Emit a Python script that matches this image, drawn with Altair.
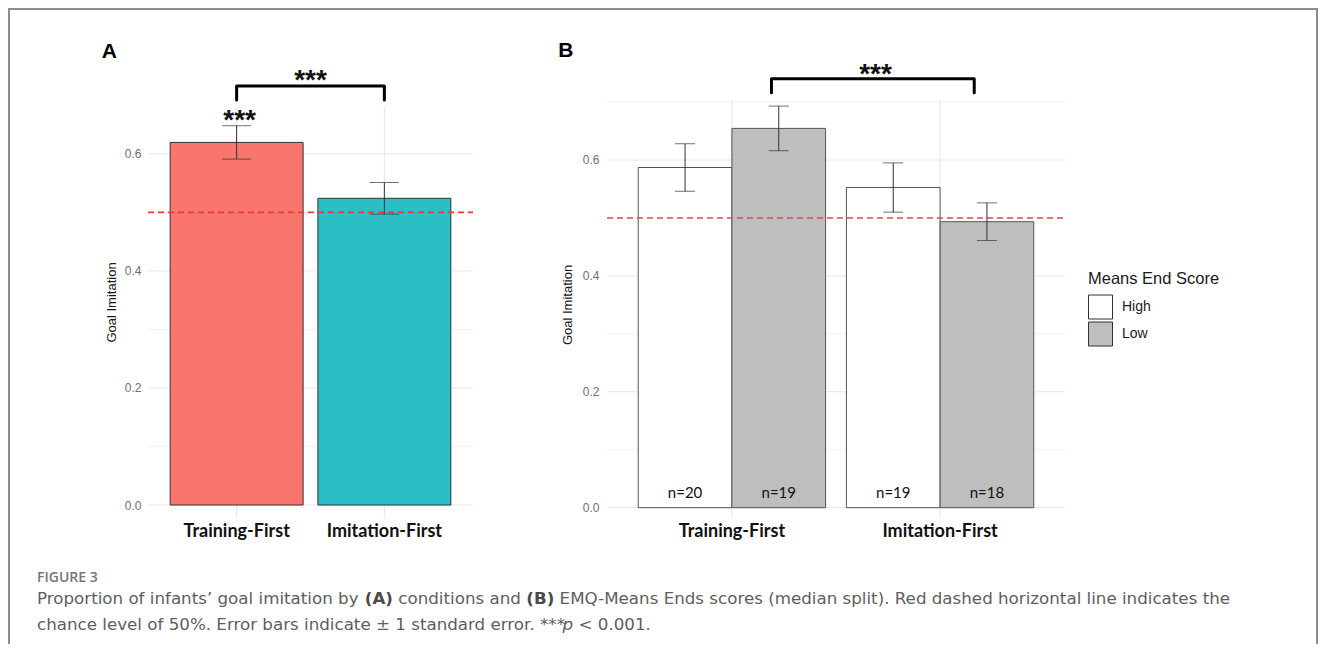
import altair as alt
import pandas as pd

# ---------------- data ----------------
cond_a = ["Training-First", "Imitation-First"]
mean_a = [0.6195, 0.524]
se_a = [0.0285, 0.027]
color_a = ["#F8766D", "#2BBFC5"]

cond_b = ["Training-First", "Training-First", "Imitation-First", "Imitation-First"]
score_b = ["High", "Low", "High", "Low"]
mean_b = [0.587, 0.6545, 0.5525, 0.4935]
se_b = [0.041, 0.0385, 0.0425, 0.0325]
n_b = ["n=20", "n=19", "n=19", "n=18"]
score_levels = ["High", "Low"]
score_colors = ["#FFFFFF", "#BEBEBE"]

major_ticks = [0.0, 0.2, 0.4, 0.6]
minor_a = [0.1, 0.3, 0.5]
minor_b = [0.1, 0.3, 0.5, 0.7]
chance = 0.5

# significance brackets (x in category units, y in data units)
bracket_a_x = [1.0, 1.0, 2.0, 2.0]
bracket_a_y = [0.692, 0.716, 0.716, 0.692]
bracket_b_x = [1.19, 1.19, 2.164, 2.164]
bracket_b_y = [0.716, 0.740, 0.740, 0.716]

# ---------------- tables ----------------
dfa = pd.DataFrame({"cond": cond_a, "mean": mean_a, "se": se_a})
dfa["lo"] = dfa["mean"] - dfa["se"]
dfa["hi"] = dfa["mean"] + dfa["se"]
dfb = pd.DataFrame({"cond": cond_b, "score": score_b, "mean": mean_b, "se": se_b, "n": n_b})
dfb["lo"] = dfb["mean"] - dfb["se"]
dfb["hi"] = dfb["mean"] + dfb["se"]
bra = pd.DataFrame({"x": bracket_a_x, "y": bracket_a_y, "i": range(4)})
brb = pd.DataFrame({"x": bracket_b_x, "y": bracket_b_y, "i": range(4)})

# ---------------- scales (chart coords) ----------------
xA = alt.Scale(type="band", domain=cond_a, range=[140, 465], paddingInner=0.1, paddingOuter=0.15)
xAl = alt.Scale(domain=[0.4, 2.6], range=[140, 465], nice=False, zero=False)
yA = alt.Scale(domain=[-0.0222, 0.68], range=[510, 99], nice=False, zero=False)
xB = alt.Scale(type="band", domain=cond_a, range=[599, 1057], paddingInner=0.1, paddingOuter=0.15)
xBl = alt.Scale(domain=[0.4, 2.6], range=[599, 1057], nice=False, zero=False)
yB = alt.Scale(domain=[-0.0178, 0.7035], range=[510, 92], nice=False, zero=False)
offB = alt.Scale(type="band", domain=score_levels, paddingInner=0, paddingOuter=0)

AXF = "Liberation Sans"
ANF = "Lato"
CAPF = "DejaVu Sans"
MAJ = "#E6E6E6"
MIN = "#F2F2F2"


def one():
    return pd.DataFrame({"k": [0]})


def txt(s, x, y, **kw):
    return alt.Chart(one()).mark_text(**kw).encode(
        x=alt.value(x), y=alt.value(y), text=alt.value(s))


def panel(df, xs, xl, ys, minor, xlo, xhi, ylo, yhi, cap, dash_color, bars, off=None):
    layers = []
    # horizontal grid
    layers.append(alt.Chart(pd.DataFrame({"v": minor})).mark_rule(color=MIN, strokeWidth=1).encode(
        y=alt.Y("v:Q", scale=ys, axis=None),
        x=alt.X(datum=xlo, scale=xl, axis=None), x2=alt.X2(datum=xhi)))
    layers.append(alt.Chart(pd.DataFrame({"v": major_ticks})).mark_rule(color=MAJ, strokeWidth=1).encode(
        y=alt.Y("v:Q", scale=ys, axis=None),
        x=alt.X(datum=xlo, scale=xl, axis=None), x2=alt.X2(datum=xhi)))
    # vertical grid at categories
    layers.append(alt.Chart(pd.DataFrame({"cond": cond_a})).mark_rule(color=MAJ, strokeWidth=1).encode(
        x=alt.X("cond:N", scale=xs, axis=None),
        y=alt.Y(datum=ylo, scale=ys, axis=None), y2=alt.Y2(datum=yhi)))
    layers.append(bars)
    # chance line
    layers.append(alt.Chart(one()).mark_rule(color=dash_color, strokeWidth=1.6, strokeDash=[6, 4]).encode(
        y=alt.Y(datum=chance, scale=ys, axis=None),
        x=alt.X(datum=xlo, scale=xl, axis=None), x2=alt.X2(datum=xhi)))
    # error bars
    enc = dict(x=alt.X("cond:N", scale=xs, axis=None))
    if off is not None:
        enc["xOffset"] = alt.XOffset("score:N", scale=off)
    layers.append(alt.Chart(df).mark_rule(color="#333333", strokeWidth=1).encode(
        y=alt.Y("lo:Q", scale=ys, axis=None), y2="hi:Q", **enc))
    layers.append(alt.Chart(df).mark_tick(color="#333333", thickness=1, size=cap).encode(
        y=alt.Y("lo:Q", scale=ys, axis=None), **enc))
    layers.append(alt.Chart(df).mark_tick(color="#333333", thickness=1, size=cap).encode(
        y=alt.Y("hi:Q", scale=ys, axis=None), **enc))
    # category labels
    layers.append(alt.Chart(pd.DataFrame({"cond": cond_a})).mark_text(
        font=ANF, fontWeight="bold", fontSize=18, color="#111111", baseline="alphabetic").encode(
        x=alt.X("cond:N", scale=xs, axis=None), y=alt.value(528.5), text="cond:N"))
    return layers


bars_a = alt.Chart(dfa).mark_bar(stroke="#333333", strokeWidth=1).encode(
    x=alt.X("cond:N", scale=xA, axis=None),
    y=alt.Y("mean:Q", scale=yA,
            axis=alt.Axis(orient="left", offset=-140, values=major_ticks, format=".1f", grid=False,
                          domain=False, ticks=False, labelPadding=7, labelFont=AXF, labelFontSize=12,
                          labelColor="#707070", title=None)),
    y2=alt.Y2(datum=0),
    fill=alt.Fill("cond:N", scale=alt.Scale(domain=cond_a, range=color_a), legend=None))

bars_b = alt.Chart(dfb).mark_bar(stroke="#555555", strokeWidth=1).encode(
    x=alt.X("cond:N", scale=xB, axis=None),
    xOffset=alt.XOffset("score:N", scale=offB),
    y=alt.Y("mean:Q", scale=yB,
            axis=alt.Axis(orient="left", offset=-599, values=major_ticks, format=".1f", grid=False,
                          domain=False, ticks=False, labelPadding=8, labelFont=AXF, labelFontSize=12,
                          labelColor="#707070", title=None)),
    y2=alt.Y2(datum=0),
    fill=alt.Fill("score:N", scale=alt.Scale(domain=score_levels, range=score_colors),
                  legend=alt.Legend(title="Means End Score", orient="none", legendX=1080, legendY=263,
                                    symbolType="square", symbolSize=576, symbolStrokeColor="#333333",
                                    symbolStrokeWidth=1, rowPadding=-8, labelFont=AXF, labelFontSize=14,
                                    labelColor="#1A1A1A", labelOffset=9, titleFont=AXF, titleFontSize=16.5,
                                    titleFontWeight="normal", titleColor="#1A1A1A", titlePadding=7)))

layers = []
layers += panel(dfa, xA, xAl, yA, minor_a, 0.4, 2.6, -0.0222, 0.68, 29, "#EE3B2F", bars_a)
layers += panel(dfb, xB, xBl, yB, minor_b, 0.4, 2.6, -0.0178, 0.7035, 20, "#DD4F46", bars_b, off=offB)

# n labels
layers.append(alt.Chart(dfb).mark_text(font=ANF, fontSize=15, color="#111111", baseline="alphabetic").encode(
    x=alt.X("cond:N", scale=xB, axis=None), xOffset=alt.XOffset("score:N", scale=offB),
    y=alt.value(489.5), text="n:N"))

# brackets
for br, xl, ys in [(bra, xAl, yA), (brb, xBl, yB)]:
    layers.append(alt.Chart(br).mark_line(color="black", strokeWidth=3, strokeJoin="round", strokeCap="round").encode(
        x=alt.X("x:Q", scale=xl, axis=None), y=alt.Y("y:Q", scale=ys, axis=None), order="i:Q"))

# asterisks
STAR = dict(font=AXF, fontWeight="bold", fontSize=28, color="#111111", baseline="alphabetic")
layers.append(alt.Chart(one()).mark_text(**STAR).encode(
    x=alt.X(datum=1.5, scale=xAl, axis=None), y=alt.Y(datum=0.711, scale=yA, axis=None), text=alt.value("***")))
layers.append(alt.Chart(one()).mark_text(**STAR).encode(
    x=alt.X(datum=1.02, scale=xAl, axis=None), y=alt.Y(datum=0.643, scale=yA, axis=None), text=alt.value("***")))
layers.append(alt.Chart(one()).mark_text(**STAR).encode(
    x=alt.X(datum=1.69, scale=xBl, axis=None), y=alt.Y(datum=0.733, scale=yB, axis=None), text=alt.value("***")))

# axis titles and panel letters
layers.append(txt("Goal Imitation", 103.5, 294.5, angle=270, font=AXF, fontSize=13, color="#1A1A1A",
                  baseline="middle", align="center"))
layers.append(txt("Goal Imitation", 559.5, 297, angle=270, font=AXF, fontSize=13, color="#1A1A1A",
                  baseline="middle", align="center"))
layers.append(txt("A", 93.7, 50.3, font=AXF, fontWeight="bold", fontSize=21, color="#000000",
                  baseline="alphabetic", align="left"))
layers.append(txt("B", 550.3, 49.3, font=AXF, fontWeight="bold", fontSize=21, color="#000000",
                  baseline="alphabetic", align="left"))

# caption
CAP = dict(font=CAPF, fontSize=16.7, color="#5E5E5E", baseline="alphabetic", align="left")
CAPB = dict(CAP, fontWeight="bold", color="#4A4A4A")
layers.append(txt("FIGURE 3", 29, 574.3, font="Open Sans", fontSize=14, fontWeight=600, color="#767676",
                  baseline="alphabetic", align="left"))
layers.append(txt("Proportion of infants’ goal imitation by", 29, 596.3, **CAP))
layers.append(txt("(A)", 356.8, 596.3, **CAPB))
layers.append(txt("conditions and", 390.3, 596.3, **CAP))
layers.append(txt("(B)", 518.3, 596.3, **CAPB))
layers.append(txt("EMQ-Means Ends scores (median split). Red dashed horizontal line indicates the", 551.6, 596.3, **CAP))
layers.append(txt("chance level of 50%. Error bars indicate ± 1 standard error. ***", 29, 622, **CAP))
layers.append(txt("p", 554.5, 622, **dict(CAP, fontStyle="italic")))
layers.append(txt("< 0.001.", 570.5, 622, **CAP))

# figure frame (top, left, right)
FR = dict(color="#8C8C8C", strokeWidth=2)
layers.append(alt.Chart(one()).mark_rule(**FR).encode(x=alt.value(0), x2=alt.value(1310), y=alt.value(1)))
layers.append(alt.Chart(one()).mark_rule(**FR).encode(x=alt.value(1), y=alt.value(0), y2=alt.value(640)))
layers.append(alt.Chart(one()).mark_rule(**FR).encode(x=alt.value(1309), y=alt.value(0), y2=alt.value(640)))

chart = alt.layer(*layers).resolve_scale(
    x="independent", y="independent", fill="independent", xOffset="independent"
).properties(
    width=1310, height=636, autosize=alt.AutoSizeParams(type="none"), padding=0, background="white"
).configure_view(stroke=None)

chart.save("out.html", embed_options={"renderer": "svg", "actions": False})
